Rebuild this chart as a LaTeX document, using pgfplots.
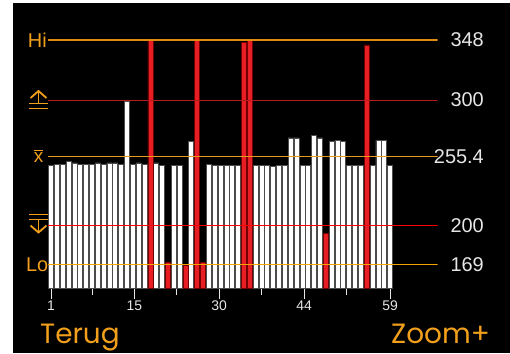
\documentclass[border=0pt]{standalone}
\usepackage{pgfplots}
\pgfplotsset{compat=1.18}
\usepackage{fontspec}
\setmainfont{Liberation Sans}
\newfontfamily\pop{Poppins}
\definecolor{ora}{HTML}{F2A01C}
\definecolor{hiline}{HTML}{E08A10}
\definecolor{meanline}{HTML}{E89A20}
\definecolor{loline}{HTML}{F5A300}
\definecolor{upperwarn}{HTML}{B21C1C}
\definecolor{redbar}{HTML}{E81E25}
\definecolor{lbl}{HTML}{E6E6E6}
\pgfplotstableread{
x y
1 248
2 249
3 249
4 251
5 250
6 249
7 249
8 249
9 250
10 249
11 250
12 250
13 249
14 299
15 249
16 250
17 249
19 250
20 248
22 248
23 248
25 267
28 249
29 248
30 248
31 248
32 248
33 248
36 248
37 248
38 248
39 247
40 248
41 248
42 270
43 270
44 248
45 248
46 272
47 270
49 267
50 268
51 267
52 248
53 248
54 248
56 248
57 268
58 268
59 248
}\whitebars
\pgfplotstableread{
x y
18 348
21 171
24 168.5
26 348
27 171
34 346
35 348
48 194
55 344
}\redbars
\pgfplotstableread{
x hi uwl mean lwl lo
0.487 348 300 255.4 200 169
67.16 348 300 255.4 200 169
}\limits
\begin{document}
\begin{tikzpicture}
\begin{scope}[x=1bp,y=1bp]
\useasboundingbox (0,0) rectangle (510,353);
\fill[white] (0,0) rectangle (510,353);
\fill[black] (13,0) rectangle (510,350);
\end{scope}
\begin{axis}[
  at={(48bp,65bp)}, anchor=south west,
  scale only axis, width=389.7bp, height=250.55bp,
  xmin=0.487, xmax=67.16, ymin=150.4, ymax=350,
  clip mode=individual,
  hide y axis,
  axis x line*=bottom,
  x axis line style={draw=none},
  xtick={1,15.25,29.75,44.3,59},
  xticklabels={1,15,30,44,59},
  minor xtick={8.1,22.5,37.05,51.5},
  tick align=outside,
  xtick pos=bottom,
  major tick length=11bp, minor tick length=7bp,
  tick style={color=lbl, line width=1bp},
  xticklabel style={font=\fontsize{14}{14}\selectfont, text=lbl, inner sep=0pt, yshift=-2bp},
  every axis plot/.append style={no markers},
]
\addplot[ybar, bar shift=0pt, bar width=5bp, fill=white, draw=gray!60!black, line width=0.6bp] table[x=x,y=y] {\whitebars};
\addplot[ybar, bar shift=0pt, bar width=5bp, fill=redbar, draw=red!45!black, line width=0.6bp] table[x=x,y=y] {\redbars};
\addplot[color=hiline, line width=1.3bp] table[x=x,y=hi] {\limits};
\addplot[color=upperwarn, line width=1.3bp] table[x=x,y=uwl] {\limits};
\addplot[color=meanline, line width=1.3bp] table[x=x,y=mean] {\limits};
\addplot[color=red, line width=1.5bp] table[x=x,y=lwl] {\limits};
\addplot[color=loline, line width=1.3bp] table[x=x,y=lo] {\limits};
\end{axis}
\begin{scope}[x=1bp,y=1bp]
% left labels
\node[anchor=base east, text=ora, font=\fontsize{20}{20}\selectfont, inner sep=0pt] at (47,306) {Hi};
% upper warning icon
\draw[ora, line width=1.8bp, line join=miter] (30.5,255) -- (38.5,262) -- (46.5,255);
\draw[ora, line width=1.8bp] (38.5,262) -- (38.5,250);
\draw[ora, line width=1.6bp] (29,249.5) -- (48,249.5);
\draw[ora, line width=1.6bp] (29,244.5) -- (48,244.5);
\node[anchor=base, text=ora, font=\fontsize{19}{19}\selectfont, inner sep=0pt] at (38.5,191) {$\overline{\mbox{x}}$};
% lower warning icon
\draw[ora, line width=1.6bp] (29,138.5) -- (48,138.5);
\draw[ora, line width=1.6bp] (29,133.5) -- (48,133.5);
\draw[ora, line width=1.8bp] (38.5,133.5) -- (38.5,120.5);
\draw[ora, line width=1.8bp, line join=miter] (30.5,127.5) -- (38.5,120.5) -- (46.5,127.5);
\node[anchor=base east, text=ora, font=\fontsize{20}{20}\selectfont, inner sep=0pt] at (48.5,81.3) {Lo};
% right labels
\node[anchor=base east, text=lbl, font=\fontsize{20}{20}\selectfont, inner sep=0pt] at (484,306.3) {348};
\node[anchor=base east, text=lbl, font=\fontsize{20}{20}\selectfont, inner sep=0pt] at (484,246.3) {300};
\node[anchor=base east, text=lbl, font=\fontsize{20}{20}\selectfont, inner sep=0pt] at (484,189.7) {255.4};
\node[anchor=base east, text=lbl, font=\fontsize{20}{20}\selectfont, inner sep=0pt] at (484,120.3) {200};
\node[anchor=base east, text=lbl, font=\fontsize{20}{20}\selectfont, inner sep=0pt] at (484,81.3) {169};
% bottom buttons
\node[anchor=base west, text=ora, font=\pop\fontsize{28}{28}\selectfont, inner sep=0pt] at (40,10) {Terug};
\node[anchor=base east, text=ora, font=\pop\fontsize{28}{28}\selectfont, inner sep=0pt] at (490,10) {Zoom+};
\end{scope}
\end{tikzpicture}
\end{document}
